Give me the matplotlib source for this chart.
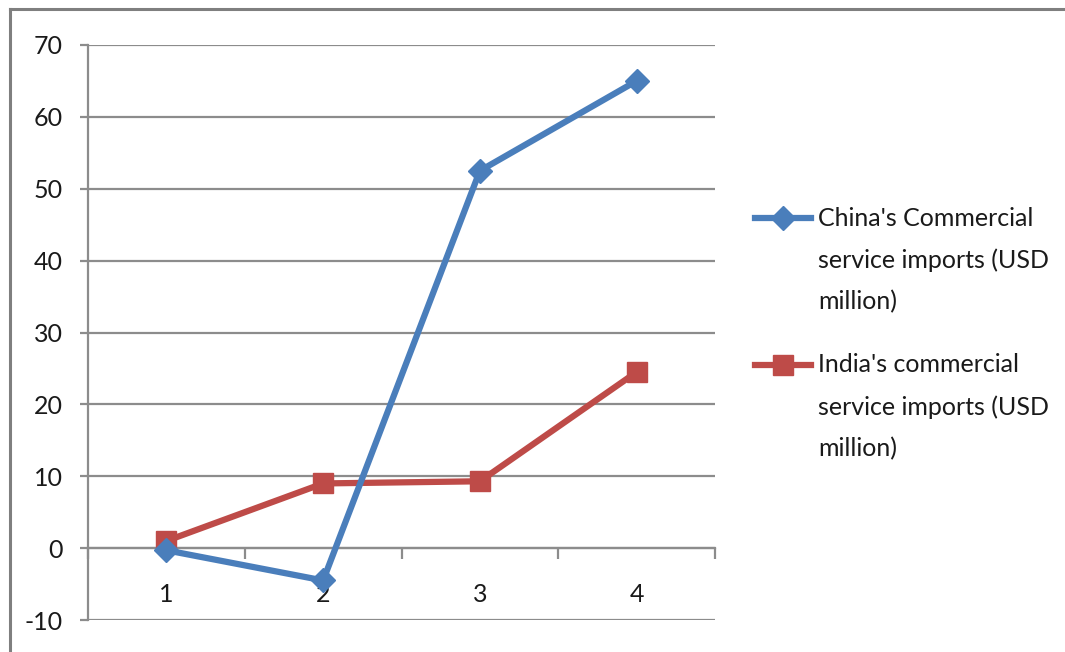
import matplotlib
matplotlib.use("Agg")
import matplotlib.pyplot as plt
from matplotlib.lines import Line2D

# Series data
periods = ["1", "2", "3", "4"]
china_imports = [-0.3, -4.5, 52.5, 65.0]
india_imports = [1.0, 9.0, 9.3, 24.5]
china_label = ["China's Commercial", "service imports (USD", "million)"]
india_label = ["India's commercial", "service imports (USD", "million)"]
y_ticks = [-10, 0, 10, 20, 30, 40, 50, 60, 70]

BLUE = "#4A7EBB"
RED = "#BE4B48"
GRID = "#8C8C8C"
TEXT = "#1A1A1A"
FONT = "Lato"
FS = 18

plt.rcParams["font.family"] = [FONT, "DejaVu Sans"]

W, H = 1065, 652
fig = plt.figure(figsize=(W / 100, H / 100), dpi=100)
fig.patch.set_facecolor("white")

ax = fig.add_axes([88 / W, 1 - 620 / H, (715 - 88) / W, (620 - 45) / H])
x = list(range(1, len(periods) + 1))

ax.plot(x, china_imports, color=BLUE, lw=4.5, marker="D", ms=12,
        mec=BLUE, mfc=BLUE, solid_joinstyle="round", zorder=4, clip_on=False)
ax.plot(x, india_imports, color=RED, lw=4.5, marker="s", ms=14,
        mec=RED, mfc=RED, solid_joinstyle="round", zorder=3, clip_on=False)

ax.set_xlim(0.5, len(periods) + 0.5)
ax.set_ylim(-10, 70)
ax.set_yticks(y_ticks)
ax.set_yticklabels([str(v) for v in y_ticks])
ax.yaxis.grid(True, color=GRID, lw=1.6)
ax.set_axisbelow(True)

for side in ("top", "right"):
    ax.spines[side].set_visible(False)
ax.spines["left"].set_color(GRID)
ax.spines["left"].set_linewidth(1.6)
ax.spines["bottom"].set_position(("data", 0))
ax.spines["bottom"].set_color(GRID)
ax.spines["bottom"].set_linewidth(1.6)

ax.tick_params(axis="y", direction="out", length=6, width=1.6, color=GRID,
               pad=12, labelsize=FS, labelcolor=TEXT)
ax.set_xticks(x)
ax.set_xticklabels(periods)
ax.set_xticks([v + 0.5 for v in range(len(periods) + 1)], minor=True)
ax.tick_params(axis="x", which="major", length=0, pad=25, labelsize=FS,
               labelcolor=TEXT)
ax.tick_params(axis="x", which="minor", direction="out", length=8,
               width=1.6, color=GRID)

# Outer chart frame
fig.add_artist(Line2D([10 / W, 10 / W], [-0.1, 1 - 9 / H], color="#7F7F7F",
                      lw=2.2, transform=fig.transFigure))
fig.add_artist(Line2D([10 / W, 1.1], [1 - 9 / H, 1 - 9 / H], color="#7F7F7F",
                      lw=2.2, transform=fig.transFigure))

# Legend
def legend_entry(y_px, color, marker, ms, lines):
    yf = 1 - y_px / H
    fig.add_artist(Line2D([755 / W, 811 / W], [yf, yf], color=color, lw=4.5,
                          transform=fig.transFigure))
    fig.add_artist(Line2D([783 / W], [yf], color=color, marker=marker, ms=ms,
                          mec=color, mfc=color, transform=fig.transFigure))
    for i, s in enumerate(lines):
        fig.text(818 / W, 1 - (y_px + 42 * i) / H, s, fontsize=FS,
                 color=TEXT, va="center", ha="left")

legend_entry(218, BLUE, "D", 12, china_label)
legend_entry(365, RED, "s", 14, india_label)

fig.savefig("out.png", dpi=100)
